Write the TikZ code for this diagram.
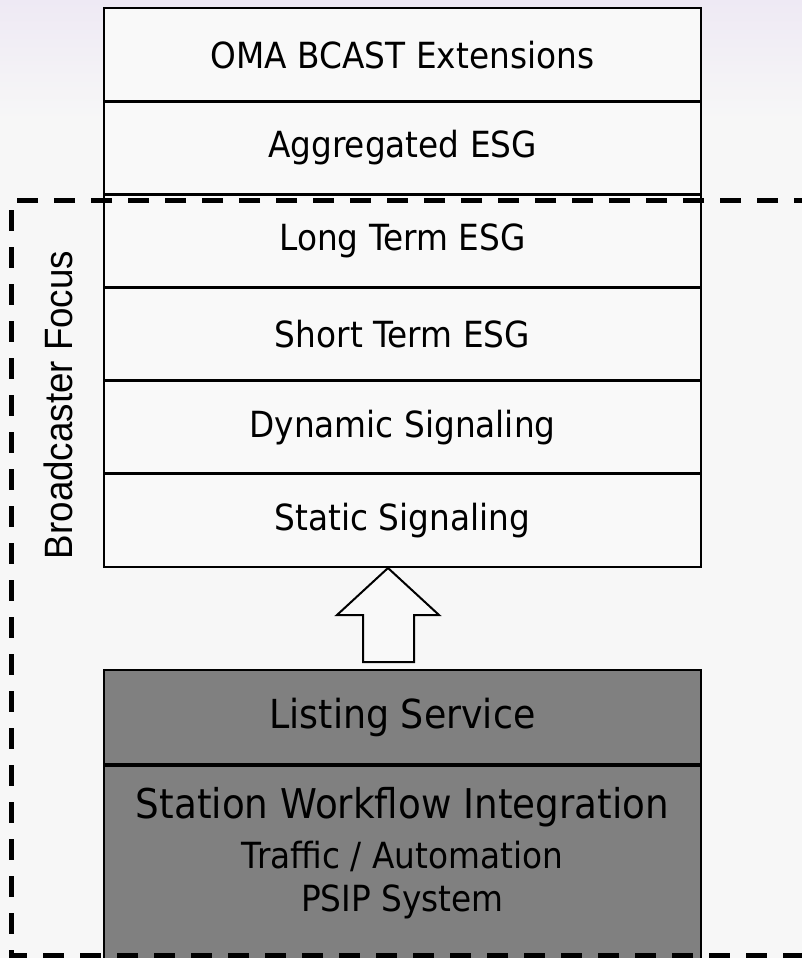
\documentclass[tikz,border=0pt]{standalone}
\usepackage{fontspec}
\setmainfont{DejaVu Sans}[FakeStretch=0.91]
\newfontfamily\arialf{Liberation Sans}[FakeStretch=0.93]
\definecolor{bgc}{HTML}{F7F7F7}
\definecolor{bgtop}{HTML}{EEE9F4}
\definecolor{boxfill}{HTML}{F9F9F9}
\definecolor{grayfill}{HTML}{808080}
\tikzset{
  layer/.style={draw=black, line width=2.7pt, fill=boxfill, minimum width=597pt, minimum height=93.17pt, inner sep=0pt, font=\fontsize{36}{43}\selectfont},
  graybox/.style={draw=black, line width=2.7pt, fill=grayfill, minimum width=597pt, inner sep=0pt},
  lbl/.style={inner sep=0pt, text=black},
  focus/.style={draw=black, line width=5pt, dash pattern=on 21pt off 16pt},
  bigarrow/.style={draw=black, line width=2pt, fill=boxfill, line join=miter}
}
\begin{document}
\begin{tikzpicture}[x=1pt,y=-1pt]
\useasboundingbox (0,0) rectangle (802,958);
\fill[bgc] (0,0) rectangle (802,958);
\shade[top color=bgtop, bottom color=bgc] (0,0) rectangle (802,120);
% upper stack
\node[layer] (oma) at (402.5,54.6) {OMA BCAST Extensions};
\node[layer] (agg) at (402.5,147.8) {Aggregated ESG};
\node[layer] (lt)  at (402.5,240.9) {Long Term ESG};
\node[layer] (st)  at (402.5,334.1) {Short Term ESG};
\node[layer] (dyn) at (402.5,427.3) {Dynamic Signaling};
\node[layer] (sta) at (402.5,520.4) {Static Signaling};
% lower grey boxes
\node[graybox, minimum height=94pt] (ls) at (402.5,717) {};
\node[lbl, font=\fontsize{40}{48}\selectfont] (lst) at (ls.center) {Listing Service};
\node[graybox, minimum height=220pt, anchor=north] (swi) at (402.5,764) {};
\node[lbl, font=\fontsize{41}{49}\selectfont] (swit) at (402.5,807) {Station Workflow Integration};
\node[lbl, font=\fontsize{36}{43}\selectfont] (traf) at (402.5,856) {Traffic / Automation};
\node[lbl, font=\fontsize{36}{43}\selectfont] (psip) at (402.5,902) {PSIP System};
% block arrow
\coordinate (tip) at (388,568);
\draw[bigarrow] (tip) -- (439,615) -- (414,615) -- (414,662) -- (363,662) -- (363,615) -- (337,615) -- cycle;
% dashed focus region
\coordinate (fa) at (815,200);
\coordinate (fb) at (11,200);
\coordinate (fc) at (11,955);
\coordinate (fd) at (815,955);
\draw[focus] (fa) -- (fb) -- (fc) -- (fd);
\node[lbl, rotate=90, font=\arialf\fontsize{39.5}{46}\selectfont] (bf) at (58,405) {Broadcaster Focus};
\end{tikzpicture}
\end{document}
